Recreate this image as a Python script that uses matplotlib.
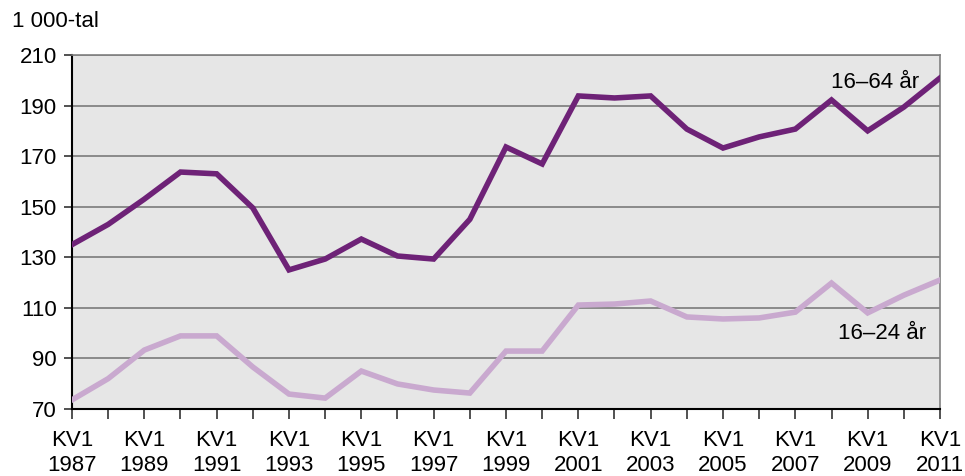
import matplotlib.pyplot as plt
from matplotlib.ticker import MultipleLocator

# Data
years = list(range(1987, 2012))
age_16_64 = [135, 143, 153, 163.7, 163, 149.5, 125, 129.3, 137.2, 130.5, 129.3, 145,
             173.6, 166.9, 193.8, 193, 193.8, 180.7, 173.2, 177.6, 180.7, 192.2, 180,
             189.4, 200.9]
age_16_24 = [73.6, 82, 93.3, 98.9, 98.9, 86.6, 75.9, 74.3, 85, 79.9, 77.5, 76.3,
             92.9, 92.9, 111.1, 111.5, 112.7, 106.4, 105.6, 106, 108.3, 119.8, 108,
             115, 121]
tick_years = years[::2]
tick_labels = [f"KV1\n{y}" for y in tick_years]
y_ticks = list(range(70, 211, 20))

plt.rcParams['font.family'] = ['Liberation Sans', 'DejaVu Sans']

fig = plt.figure(figsize=(9.65, 4.76), dpi=100)
ax = fig.add_axes([0.0746, 0.1408, 0.8995, 0.7437])
ax.set_facecolor('#e6e6e6')

ax.plot(years, age_16_64, color='#6e2277', lw=4, solid_joinstyle='miter', zorder=3)
ax.plot(years, age_16_24, color='#c9a9cf', lw=4, solid_joinstyle='miter', zorder=3)

ax.set_xlim(1987, 2011)
ax.set_ylim(70, 210)
ax.set_yticks(y_ticks)
ax.set_xticks(tick_years)
ax.set_xticklabels(tick_labels)
ax.xaxis.set_minor_locator(MultipleLocator(1))
ax.grid(axis='y', color='#7a7a7a', lw=1.2, zorder=1)
ax.set_axisbelow(True)

ax.tick_params(axis='both', labelsize=16, colors='black', direction='out')
ax.tick_params(axis='x', which='both', length=7, width=1.2, color='#333333', pad=8)
ax.tick_params(axis='y', length=6, width=1.2, color='#333333', pad=5)
for lab in ax.get_xticklabels():
    lab.set_linespacing(1.25)

for side in ['left', 'bottom']:
    ax.spines[side].set_color('black')
    ax.spines[side].set_linewidth(1.5)
for side in ['top', 'right']:
    ax.spines[side].set_color('#808080')
    ax.spines[side].set_linewidth(1.2)

ax.text(2009.2, 199, "16–64 år", fontsize=16, ha='center', va='center')
ax.text(2009.4, 100, "16–24 år", fontsize=16, ha='center', va='center')
fig.text(0.012, 0.954, "1 000-tal", fontsize=16, ha='left', va='center')

fig.savefig('out.png', dpi=100)
